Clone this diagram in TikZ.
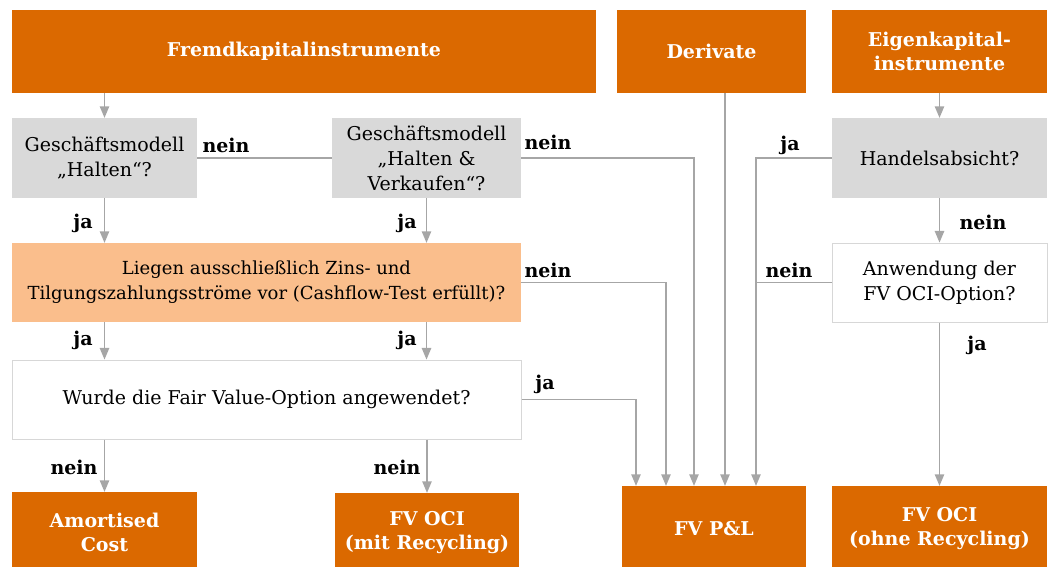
\documentclass[tikz,border=0pt]{standalone}
\usepackage{fontspec}
\setmainfont{DejaVu Serif}
\usetikzlibrary{arrows}

\definecolor{dunkelorange}{RGB}{219,105,0}
\definecolor{hellorange}{RGB}{250,190,140}
\definecolor{kastengrau}{RGB}{217,217,217}
\definecolor{liniengrau}{RGB}{166,166,166}
\definecolor{randgrau}{RGB}{215,215,215}

\begin{document}
\begin{tikzpicture}[x=1pt,y=-1pt,
    kopf/.style={fill=dunkelorange, text=white, align=center, inner sep=0pt,
        font=\bfseries\fontsize{19}{24}\selectfont},
    frage/.style={fill=kastengrau, align=center, inner sep=0pt,
        font=\fontsize{19}{25}\selectfont},
    offen/.style={fill=white, draw=randgrau, line width=1pt, align=center, inner sep=0pt,
        font=\fontsize{19}{25}\selectfont},
    antwort/.style={font=\bfseries\fontsize{19}{20}\selectfont, inner sep=0pt},
    linie/.style={draw=liniengrau, line width=1.7pt},
    pfeil/.style={linie, -triangle 45}]

        \useasboundingbox (0,0) rectangle (1054,567);

        %===========================
        % Kopfzeile
        %===========================

        \draw node (fk) at (304,51.5) [kopf, minimum width=584, minimum height=83]{Fremdkapitalinstrumente};
        \draw node (dv) at (711.5,51.5) [kopf, minimum width=189, minimum height=83]{Derivate};
        \draw node (ek) at (939.5,51.5) [kopf, minimum width=215, minimum height=83]{Eigenkapital-\\instrumente};

        %===========================
        % Fragen
        %===========================

        \draw node (hg) at (104.5,158) [frage, minimum width=185, minimum height=80]{Geschäftsmodell\\„Halten“?};
        \draw node (hv) at (426.5,158) [frage, minimum width=189, minimum height=80]{Geschäftsmodell\\„Halten \&\\Verkaufen“?};
        \draw node (ha) at (939.5,158) [frage, minimum width=215, minimum height=80]{Handelsabsicht?};

        \draw node (lz) at (266.5,282.5) [frage, fill=hellorange, minimum width=509, minimum height=79,
            font=\fontsize{18}{25}\selectfont]{Liegen ausschließlich Zins- und\\Tilgungszahlungsströme vor (Cashflow-Test erfüllt)?};
        \draw node (an) at (939.5,282.5) [offen, minimum width=215, minimum height=79]{Anwendung der\\FV OCI-Option?};

        \draw node (fo) at (266.5,399.5) [offen, minimum width=509, minimum height=79]{Wurde die Fair Value-Option angewendet?};

        %===========================
        % Ergebnisse
        %===========================

        \draw node (ac) at (104.5,532) [kopf, minimum width=185, minimum height=80]{Amortised\\Cost};
        \draw node (fm) at (427,532.5) [kopf, minimum width=184, minimum height=79]{FV OCI\\(mit Recycling)};
        \draw node (pl) at (714,529) [kopf, minimum width=184, minimum height=86]{FV P\&L};
        \draw node (fn) at (939.5,529) [kopf, minimum width=215, minimum height=86]{FV OCI\\(ohne Recycling)};

        % Eingaenge FV P&L
        \coordinate (plfo) at ([xshift=-78]pl.north);
        \coordinate (pllz) at ([xshift=-48]pl.north);
        \coordinate (plhv) at ([xshift=-20]pl.north);
        \coordinate (pldv) at ([xshift=11]pl.north);
        \coordinate (plek) at ([xshift=42]pl.north);

        %===========================
        % Verbindungen
        %===========================

        % Fremdkapital
        \draw[pfeil] (fk.south -| hg.north) -- (hg.north);
        \draw[linie] (hg.east) -- (hv.west);
        \draw[pfeil] (hg.south) -- (hg.south |- lz.north);
        \draw[pfeil] (hv.south) -- (hv.south |- lz.north);
        \draw[pfeil] (hg.south |- lz.south) -- (hg.south |- fo.north);
        \draw[pfeil] (hv.south |- lz.south) -- (hv.south |- fo.north);
        \draw[pfeil] (ac.north |- fo.south) -- (ac.north);
        \draw[pfeil] (fm.north |- fo.south) -- (fm.north);

        % nach FV P&L
        \draw[pfeil] (fo.east) -| (plfo);
        \draw[pfeil] (lz.east) -| (pllz);
        \draw[pfeil] (hv.east) -| (plhv);
        \draw[pfeil] (pldv |- dv.south) -- (pldv);
        \draw[pfeil] (ha.west) -| (plek);
        \draw[linie] (an.west) -- (an.west -| plek);

        % Eigenkapital
        \draw[pfeil] (ek.south) -- (ha.north);
        \draw[pfeil] (ha.south) -- (an.north);
        \draw[pfeil] (an.south) -- (fn.north);

        %===========================
        % Beschriftungen
        %===========================

        \node (t1) at (226,145) [antwort]{nein};
        \node (t2) at (548,142) [antwort]{nein};
        \node (t3) at (83,223) [antwort]{ja};
        \node (t4) at (407,223) [antwort]{ja};
        \node (t5) at (548,270) [antwort]{nein};
        \node (t6) at (83,340) [antwort]{ja};
        \node (t7) at (407,340) [antwort]{ja};
        \node (t8) at (545,384) [antwort]{ja};
        \node (t9) at (74,467) [antwort]{nein};
        \node (t10) at (397,467) [antwort]{nein};
        \node (t11) at (790,145) [antwort]{ja};
        \node (t12) at (983,222) [antwort]{nein};
        \node (t13) at (789,270) [antwort]{nein};
        \node (t14) at (977,345) [antwort]{ja};
\end{tikzpicture}
\end{document}
